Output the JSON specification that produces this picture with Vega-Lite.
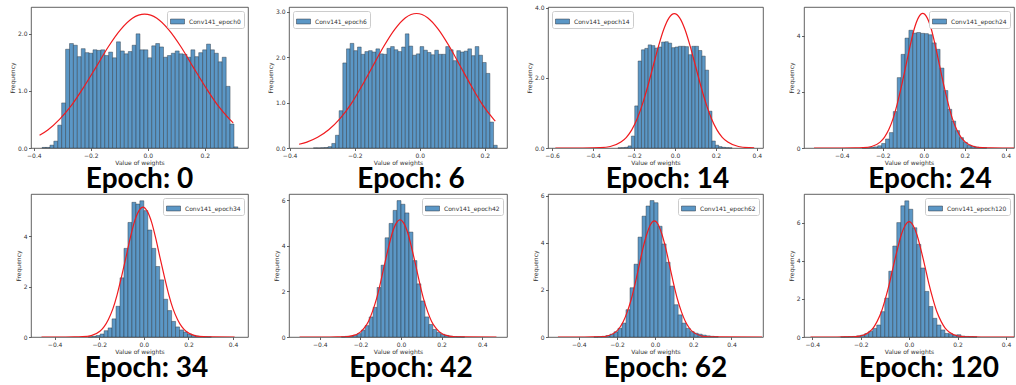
{
"$schema": "https://vega.github.io/schema/vega-lite/v6.json",
"background": "white",
"padding": {"left": 9, "top": 4, "right": 2, "bottom": 2},
"datasets": {
"h": [
{"p":"e0","a":-0.371,"b":-0.3573,"y":0.01},{"p":"e0","a":-0.3573,"b":-0.3435,"y":0.01},{"p":"e0","a":-0.3435,"b":-0.3298,"y":0.05},{"p":"e0","a":-0.3298,"b":-0.316,"y":0.12},{"p":"e0","a":-0.316,"b":-0.3023,"y":0.40},{"p":"e0","a":-0.3023,"b":-0.2885,"y":0.79},{"p":"e0","a":-0.2885,"b":-0.2748,"y":1.73},{"p":"e0","a":-0.2748,"b":-0.261,"y":1.83},{"p":"e0","a":-0.261,"b":-0.2473,"y":1.80},{"p":"e0","a":-0.2473,"b":-0.2335,"y":1.60},{"p":"e0","a":-0.2335,"b":-0.2198,"y":1.74},{"p":"e0","a":-0.2198,"b":-0.206,"y":1.67},{"p":"e0","a":-0.206,"b":-0.1923,"y":1.66},{"p":"e0","a":-0.1923,"b":-0.1785,"y":1.72},{"p":"e0","a":-0.1785,"b":-0.1648,"y":1.71},{"p":"e0","a":-0.1648,"b":-0.151,"y":1.72},{"p":"e0","a":-0.151,"b":-0.1373,"y":1.62},{"p":"e0","a":-0.1373,"b":-0.1235,"y":1.68},{"p":"e0","a":-0.1235,"b":-0.1098,"y":1.58},{"p":"e0","a":-0.1098,"b":-0.096,"y":1.86},{"p":"e0","a":-0.096,"b":-0.0823,"y":1.70},{"p":"e0","a":-0.0823,"b":-0.0685,"y":1.65},{"p":"e0","a":-0.0685,"b":-0.0548,"y":1.69},{"p":"e0","a":-0.0548,"b":-0.041,"y":1.80},{"p":"e0","a":-0.041,"b":-0.0273,"y":2.00},{"p":"e0","a":-0.0273,"b":-0.0135,"y":1.72},{"p":"e0","a":-0.0135,"b":0.0003,"y":1.72},{"p":"e0","a":0.0003,"b":0.014,"y":1.58},{"p":"e0","a":0.014,"b":0.0278,"y":1.79},{"p":"e0","a":0.0278,"b":0.0415,"y":1.83},{"p":"e0","a":0.0415,"b":0.0553,"y":1.77},{"p":"e0","a":0.0553,"b":0.069,"y":1.59},{"p":"e0","a":0.069,"b":0.0828,"y":1.62},{"p":"e0","a":0.0828,"b":0.0965,"y":1.66},{"p":"e0","a":0.0965,"b":0.1103,"y":1.70},{"p":"e0","a":0.1103,"b":0.124,"y":1.65},{"p":"e0","a":0.124,"b":0.1378,"y":1.64},{"p":"e0","a":0.1378,"b":0.1515,"y":1.59},{"p":"e0","a":0.1515,"b":0.1653,"y":1.72},{"p":"e0","a":0.1653,"b":0.179,"y":1.60},{"p":"e0","a":0.179,"b":0.1928,"y":1.67},{"p":"e0","a":0.1928,"b":0.2065,"y":1.72},{"p":"e0","a":0.2065,"b":0.2203,"y":1.82},{"p":"e0","a":0.2203,"b":0.234,"y":1.72},{"p":"e0","a":0.234,"b":0.2478,"y":1.66},{"p":"e0","a":0.2478,"b":0.2615,"y":1.51},{"p":"e0","a":0.2615,"b":0.2753,"y":1.59},{"p":"e0","a":0.2753,"b":0.289,"y":1.08},{"p":"e0","a":0.289,"b":0.3028,"y":0.42},{"p":"e0","a":0.3028,"b":0.3165,"y":0.02},
{"p":"e6","a":-0.327,"b":-0.3157,"y":0.002},{"p":"e6","a":-0.3157,"b":-0.3044,"y":0.001},{"p":"e6","a":-0.3044,"b":-0.2931,"y":0.005},{"p":"e6","a":-0.2931,"b":-0.2818,"y":0.01},{"p":"e6","a":-0.2818,"b":-0.2705,"y":0.03},{"p":"e6","a":-0.2705,"b":-0.2592,"y":0.10},{"p":"e6","a":-0.2592,"b":-0.2479,"y":0.28},{"p":"e6","a":-0.2479,"b":-0.2366,"y":0.82},{"p":"e6","a":-0.2366,"b":-0.2253,"y":1.87},{"p":"e6","a":-0.2253,"b":-0.214,"y":2.18},{"p":"e6","a":-0.214,"b":-0.2027,"y":2.30},{"p":"e6","a":-0.2027,"b":-0.1914,"y":2.14},{"p":"e6","a":-0.1914,"b":-0.1801,"y":2.22},{"p":"e6","a":-0.1801,"b":-0.1688,"y":2.06},{"p":"e6","a":-0.1688,"b":-0.1575,"y":2.12},{"p":"e6","a":-0.1575,"b":-0.1462,"y":2.14},{"p":"e6","a":-0.1462,"b":-0.1349,"y":2.11},{"p":"e6","a":-0.1349,"b":-0.1236,"y":2.18},{"p":"e6","a":-0.1236,"b":-0.1123,"y":2.07},{"p":"e6","a":-0.1123,"b":-0.101,"y":2.06},{"p":"e6","a":-0.101,"b":-0.0897,"y":2.19},{"p":"e6","a":-0.0897,"b":-0.0784,"y":2.23},{"p":"e6","a":-0.0784,"b":-0.0671,"y":2.16},{"p":"e6","a":-0.0671,"b":-0.0558,"y":2.12},{"p":"e6","a":-0.0558,"b":-0.0445,"y":2.22},{"p":"e6","a":-0.0445,"b":-0.0332,"y":2.51},{"p":"e6","a":-0.0332,"b":-0.0219,"y":2.24},{"p":"e6","a":-0.0219,"b":-0.0106,"y":2.04},{"p":"e6","a":-0.0106,"b":0.0007,"y":2.07},{"p":"e6","a":0.0007,"b":0.012,"y":2.23},{"p":"e6","a":0.012,"b":0.0233,"y":2.15},{"p":"e6","a":0.0233,"b":0.0346,"y":2.10},{"p":"e6","a":0.0346,"b":0.0459,"y":2.05},{"p":"e6","a":0.0459,"b":0.0572,"y":2.15},{"p":"e6","a":0.0572,"b":0.0685,"y":2.06},{"p":"e6","a":0.0685,"b":0.0798,"y":2.06},{"p":"e6","a":0.0798,"b":0.0911,"y":2.23},{"p":"e6","a":0.0911,"b":0.1024,"y":2.16},{"p":"e6","a":0.1024,"b":0.1137,"y":1.92},{"p":"e6","a":0.1137,"b":0.125,"y":2.14},{"p":"e6","a":0.125,"b":0.1363,"y":2.11},{"p":"e6","a":0.1363,"b":0.1476,"y":2.13},{"p":"e6","a":0.1476,"b":0.1589,"y":2.18},{"p":"e6","a":0.1589,"b":0.1702,"y":2.03},{"p":"e6","a":0.1702,"b":0.1815,"y":2.23},{"p":"e6","a":0.1815,"b":0.1928,"y":2.04},{"p":"e6","a":0.1928,"b":0.2041,"y":1.88},{"p":"e6","a":0.2041,"b":0.2154,"y":1.64},{"p":"e6","a":0.2154,"b":0.2267,"y":0.57},{"p":"e6","a":0.2267,"b":0.238,"y":0.06},
{"p":"e14","a":-0.2784,"b":-0.262,"y":0.005},{"p":"e14","a":-0.262,"b":-0.2456,"y":0.01},{"p":"e14","a":-0.2456,"b":-0.2292,"y":0.02},{"p":"e14","a":-0.2292,"b":-0.2128,"y":0.06},{"p":"e14","a":-0.2128,"b":-0.1964,"y":0.34},{"p":"e14","a":-0.1964,"b":-0.18,"y":1.20},{"p":"e14","a":-0.18,"b":-0.1636,"y":2.48},{"p":"e14","a":-0.1636,"b":-0.1472,"y":2.80},{"p":"e14","a":-0.1472,"b":-0.1308,"y":2.84},{"p":"e14","a":-0.1308,"b":-0.1144,"y":2.94},{"p":"e14","a":-0.1144,"b":-0.098,"y":2.92},{"p":"e14","a":-0.098,"b":-0.0816,"y":2.85},{"p":"e14","a":-0.0816,"b":-0.0652,"y":2.88},{"p":"e14","a":-0.0652,"b":-0.0488,"y":3.02},{"p":"e14","a":-0.0488,"b":-0.0324,"y":3.03},{"p":"e14","a":-0.0324,"b":-0.016,"y":2.99},{"p":"e14","a":-0.016,"b":0.0004,"y":2.86},{"p":"e14","a":0.0004,"b":0.0168,"y":2.88},{"p":"e14","a":0.0168,"b":0.0332,"y":2.90},{"p":"e14","a":0.0332,"b":0.0496,"y":2.90},{"p":"e14","a":0.0496,"b":0.066,"y":2.89},{"p":"e14","a":0.066,"b":0.0824,"y":2.66},{"p":"e14","a":0.0824,"b":0.0988,"y":2.90},{"p":"e14","a":0.0988,"b":0.1152,"y":2.90},{"p":"e14","a":0.1152,"b":0.1316,"y":2.78},{"p":"e14","a":0.1316,"b":0.148,"y":2.62},{"p":"e14","a":0.148,"b":0.1644,"y":2.22},{"p":"e14","a":0.1644,"b":0.1808,"y":1.05},{"p":"e14","a":0.1808,"b":0.1972,"y":0.20},{"p":"e14","a":0.1972,"b":0.2136,"y":0.08},{"p":"e14","a":0.2136,"b":0.23,"y":0.04},{"p":"e14","a":0.23,"b":0.2464,"y":0.02},{"p":"e14","a":0.2464,"b":0.2628,"y":0.01},{"p":"e14","a":0.2628,"b":0.2792,"y":0.005},
{"p":"e24","a":-0.3005,"b":-0.2815,"y":0.005},{"p":"e24","a":-0.2815,"b":-0.2625,"y":0.01},{"p":"e24","a":-0.2625,"b":-0.2435,"y":0.02},{"p":"e24","a":-0.2435,"b":-0.2245,"y":0.04},{"p":"e24","a":-0.2245,"b":-0.2055,"y":0.08},{"p":"e24","a":-0.2055,"b":-0.1865,"y":0.16},{"p":"e24","a":-0.1865,"b":-0.1675,"y":0.32},{"p":"e24","a":-0.1675,"b":-0.1485,"y":0.55},{"p":"e24","a":-0.1485,"b":-0.1295,"y":1.30},{"p":"e24","a":-0.1295,"b":-0.1105,"y":2.51},{"p":"e24","a":-0.1105,"b":-0.0915,"y":3.34},{"p":"e24","a":-0.0915,"b":-0.0725,"y":3.92},{"p":"e24","a":-0.0725,"b":-0.0535,"y":4.20},{"p":"e24","a":-0.0535,"b":-0.0345,"y":4.10},{"p":"e24","a":-0.0345,"b":-0.0155,"y":4.12},{"p":"e24","a":-0.0155,"b":0.0035,"y":4.09},{"p":"e24","a":0.0035,"b":0.0225,"y":4.08},{"p":"e24","a":0.0225,"b":0.0415,"y":4.04},{"p":"e24","a":0.0415,"b":0.0605,"y":3.75},{"p":"e24","a":0.0605,"b":0.0795,"y":3.52},{"p":"e24","a":0.0795,"b":0.0985,"y":2.85},{"p":"e24","a":0.0985,"b":0.1175,"y":2.05},{"p":"e24","a":0.1175,"b":0.1365,"y":1.38},{"p":"e24","a":0.1365,"b":0.1555,"y":0.96},{"p":"e24","a":0.1555,"b":0.1745,"y":0.62},{"p":"e24","a":0.1745,"b":0.1935,"y":0.37},{"p":"e24","a":0.1935,"b":0.2125,"y":0.20},{"p":"e24","a":0.2125,"b":0.2315,"y":0.10},{"p":"e24","a":0.2315,"b":0.2505,"y":0.06},{"p":"e24","a":0.2505,"b":0.2695,"y":0.03},{"p":"e24","a":0.2695,"b":0.2885,"y":0.015},{"p":"e24","a":0.2885,"b":0.3075,"y":0.01},
{"p":"e34","a":-0.2493,"b":-0.2315,"y":0.01},{"p":"e34","a":-0.2315,"b":-0.2137,"y":0.03},{"p":"e34","a":-0.2137,"b":-0.1959,"y":0.06},{"p":"e34","a":-0.1959,"b":-0.1781,"y":0.12},{"p":"e34","a":-0.1781,"b":-0.1603,"y":0.25},{"p":"e34","a":-0.1603,"b":-0.1425,"y":0.36},{"p":"e34","a":-0.1425,"b":-0.1247,"y":0.72},{"p":"e34","a":-0.1247,"b":-0.1069,"y":1.22},{"p":"e34","a":-0.1069,"b":-0.0891,"y":2.35},{"p":"e34","a":-0.0891,"b":-0.0713,"y":3.52},{"p":"e34","a":-0.0713,"b":-0.0535,"y":4.55},{"p":"e34","a":-0.0535,"b":-0.0357,"y":5.35},{"p":"e34","a":-0.0357,"b":-0.0179,"y":5.28},{"p":"e34","a":-0.0179,"b":-0.0001,"y":5.41},{"p":"e34","a":-0.0001,"b":0.0177,"y":5.02},{"p":"e34","a":0.0177,"b":0.0355,"y":4.25},{"p":"e34","a":0.0355,"b":0.0533,"y":3.52},{"p":"e34","a":0.0533,"b":0.0711,"y":2.80},{"p":"e34","a":0.0711,"b":0.0889,"y":2.27},{"p":"e34","a":0.0889,"b":0.1067,"y":1.50},{"p":"e34","a":0.1067,"b":0.1245,"y":1.05},{"p":"e34","a":0.1245,"b":0.1423,"y":0.62},{"p":"e34","a":0.1423,"b":0.1601,"y":0.40},{"p":"e34","a":0.1601,"b":0.1779,"y":0.28},{"p":"e34","a":0.1779,"b":0.1957,"y":0.20},{"p":"e34","a":0.1957,"b":0.2135,"y":0.12},{"p":"e34","a":0.2135,"b":0.2313,"y":0.07},{"p":"e34","a":0.2313,"b":0.2491,"y":0.04},{"p":"e34","a":0.2491,"b":0.2669,"y":0.02},{"p":"e34","a":0.2669,"b":0.2847,"y":0.01},{"p":"e34","a":0.2847,"b":0.3025,"y":0.005},
{"p":"e42","a":-0.2942,"b":-0.2746,"y":0.01},{"p":"e42","a":-0.2746,"b":-0.255,"y":0.03},{"p":"e42","a":-0.255,"b":-0.2354,"y":0.04},{"p":"e42","a":-0.2354,"b":-0.2158,"y":0.08},{"p":"e42","a":-0.2158,"b":-0.1962,"y":0.15},{"p":"e42","a":-0.1962,"b":-0.1766,"y":0.30},{"p":"e42","a":-0.1766,"b":-0.157,"y":0.50},{"p":"e42","a":-0.157,"b":-0.1374,"y":0.88},{"p":"e42","a":-0.1374,"b":-0.1178,"y":1.30},{"p":"e42","a":-0.1178,"b":-0.0982,"y":2.17},{"p":"e42","a":-0.0982,"b":-0.0786,"y":3.15},{"p":"e42","a":-0.0786,"b":-0.059,"y":4.35},{"p":"e42","a":-0.059,"b":-0.0394,"y":4.98},{"p":"e42","a":-0.0394,"b":-0.0198,"y":5.55},{"p":"e42","a":-0.0198,"b":-0.0002,"y":5.98},{"p":"e42","a":-0.0002,"b":0.0194,"y":5.82},{"p":"e42","a":0.0194,"b":0.039,"y":5.44},{"p":"e42","a":0.039,"b":0.0586,"y":4.60},{"p":"e42","a":0.0586,"b":0.0782,"y":3.35},{"p":"e42","a":0.0782,"b":0.0978,"y":2.33},{"p":"e42","a":0.0978,"b":0.1174,"y":1.58},{"p":"e42","a":0.1174,"b":0.137,"y":0.88},{"p":"e42","a":0.137,"b":0.1566,"y":0.55},{"p":"e42","a":0.1566,"b":0.1762,"y":0.33},{"p":"e42","a":0.1762,"b":0.1958,"y":0.20},{"p":"e42","a":0.1958,"b":0.2154,"y":0.12},{"p":"e42","a":0.2154,"b":0.235,"y":0.07},{"p":"e42","a":0.235,"b":0.2546,"y":0.04},{"p":"e42","a":0.2546,"b":0.2742,"y":0.02},{"p":"e42","a":0.2742,"b":0.2938,"y":0.01},{"p":"e42","a":0.2938,"b":0.3134,"y":0.005},
{"p":"e62","a":-0.3205,"b":-0.2995,"y":0.005},{"p":"e62","a":-0.2995,"b":-0.2785,"y":0.015},{"p":"e62","a":-0.2785,"b":-0.2575,"y":0.03},{"p":"e62","a":-0.2575,"b":-0.2365,"y":0.06},{"p":"e62","a":-0.2365,"b":-0.2155,"y":0.12},{"p":"e62","a":-0.2155,"b":-0.1945,"y":0.22},{"p":"e62","a":-0.1945,"b":-0.1735,"y":0.37},{"p":"e62","a":-0.1735,"b":-0.1525,"y":0.59},{"p":"e62","a":-0.1525,"b":-0.1315,"y":1.16},{"p":"e62","a":-0.1315,"b":-0.1105,"y":2.09},{"p":"e62","a":-0.1105,"b":-0.0895,"y":3.09},{"p":"e62","a":-0.0895,"b":-0.0685,"y":4.24},{"p":"e62","a":-0.0685,"b":-0.0475,"y":5.13},{"p":"e62","a":-0.0475,"b":-0.0265,"y":5.56},{"p":"e62","a":-0.0265,"b":-0.0055,"y":5.79},{"p":"e62","a":-0.0055,"b":0.0155,"y":5.70},{"p":"e62","a":0.0155,"b":0.0365,"y":4.70},{"p":"e62","a":0.0365,"b":0.0575,"y":3.95},{"p":"e62","a":0.0575,"b":0.0785,"y":3.17},{"p":"e62","a":0.0785,"b":0.0995,"y":2.16},{"p":"e62","a":0.0995,"b":0.1205,"y":1.37},{"p":"e62","a":0.1205,"b":0.1415,"y":0.94},{"p":"e62","a":0.1415,"b":0.1625,"y":0.59},{"p":"e62","a":0.1625,"b":0.1835,"y":0.37},{"p":"e62","a":0.1835,"b":0.2045,"y":0.23},{"p":"e62","a":0.2045,"b":0.2255,"y":0.16},{"p":"e62","a":0.2255,"b":0.2465,"y":0.12},{"p":"e62","a":0.2465,"b":0.2675,"y":0.08},{"p":"e62","a":0.2675,"b":0.2885,"y":0.05},{"p":"e62","a":0.2885,"b":0.3095,"y":0.03},{"p":"e62","a":0.3095,"b":0.3305,"y":0.02},
{"p":"e120","a":-0.2826,"b":-0.266,"y":0.005},{"p":"e120","a":-0.266,"b":-0.2495,"y":0.01},{"p":"e120","a":-0.2495,"b":-0.2329,"y":0.02},{"p":"e120","a":-0.2329,"b":-0.2164,"y":0.03},{"p":"e120","a":-0.2164,"b":-0.1998,"y":0.06},{"p":"e120","a":-0.1998,"b":-0.1833,"y":0.10},{"p":"e120","a":-0.1833,"b":-0.1667,"y":0.18},{"p":"e120","a":-0.1667,"b":-0.1502,"y":0.30},{"p":"e120","a":-0.1502,"b":-0.1336,"y":0.45},{"p":"e120","a":-0.1336,"b":-0.1171,"y":0.63},{"p":"e120","a":-0.1171,"b":-0.1005,"y":1.33},{"p":"e120","a":-0.1005,"b":-0.084,"y":2.04},{"p":"e120","a":-0.084,"b":-0.0674,"y":3.45},{"p":"e120","a":-0.0674,"b":-0.0509,"y":4.77},{"p":"e120","a":-0.0509,"b":-0.0343,"y":6.00},{"p":"e120","a":-0.0343,"b":-0.0178,"y":6.88},{"p":"e120","a":-0.0178,"b":-0.0012,"y":7.14},{"p":"e120","a":-0.0012,"b":0.0153,"y":6.70},{"p":"e120","a":0.0153,"b":0.0319,"y":5.73},{"p":"e120","a":0.0319,"b":0.0484,"y":4.86},{"p":"e120","a":0.0484,"b":0.065,"y":3.62},{"p":"e120","a":0.065,"b":0.0815,"y":2.39},{"p":"e120","a":0.0815,"b":0.0981,"y":1.60},{"p":"e120","a":0.0981,"b":0.1146,"y":0.98},{"p":"e120","a":0.1146,"b":0.1312,"y":0.63},{"p":"e120","a":0.1312,"b":0.1477,"y":0.37},{"p":"e120","a":0.1477,"b":0.1643,"y":0.19},{"p":"e120","a":0.1643,"b":0.1808,"y":0.17},{"p":"e120","a":0.1808,"b":0.1974,"y":0.10},{"p":"e120","a":0.1974,"b":0.2139,"y":0.12},{"p":"e120","a":0.2139,"b":0.2305,"y":0.05},{"p":"e120","a":0.2305,"b":0.247,"y":0.03},{"p":"e120","a":0.247,"b":0.2636,"y":0.02},{"p":"e120","a":0.2636,"b":0.2801,"y":0.01}
],
"c": [
{"p":"e0","x":-0.38,"y":0.223},{"p":"e0","x":-0.351,"y":0.317},{"p":"e0","x":-0.309,"y":0.507},{"p":"e0","x":-0.266,"y":0.761},{"p":"e0","x":-0.224,"y":1.073},{"p":"e0","x":-0.181,"y":1.422},{"p":"e0","x":-0.139,"y":1.769},{"p":"e0","x":-0.096,"y":2.069},{"p":"e0","x":-0.054,"y":2.272},{"p":"e0","x":-0.011,"y":2.344},{"p":"e0","x":0.032,"y":2.272},{"p":"e0","x":0.074,"y":2.069},{"p":"e0","x":0.117,"y":1.769},{"p":"e0","x":0.159,"y":1.422},{"p":"e0","x":0.202,"y":1.073},{"p":"e0","x":0.244,"y":0.761},{"p":"e0","x":0.287,"y":0.507},{"p":"e0","x":0.30,"y":0.44},
{"p":"e6","x":-0.371,"y":0.082},{"p":"e6","x":-0.347,"y":0.130},{"p":"e6","x":-0.314,"y":0.235},{"p":"e6","x":-0.280,"y":0.400},{"p":"e6","x":-0.246,"y":0.640},{"p":"e6","x":-0.212,"y":0.960},{"p":"e6","x":-0.179,"y":1.354},{"p":"e6","x":-0.145,"y":1.793},{"p":"e6","x":-0.111,"y":2.232},{"p":"e6","x":-0.077,"y":2.610},{"p":"e6","x":-0.044,"y":2.866},{"p":"e6","x":-0.010,"y":2.957},{"p":"e6","x":0.024,"y":2.866},{"p":"e6","x":0.057,"y":2.610},{"p":"e6","x":0.091,"y":2.232},{"p":"e6","x":0.125,"y":1.793},{"p":"e6","x":0.159,"y":1.354},{"p":"e6","x":0.192,"y":0.960},{"p":"e6","x":0.226,"y":0.640},{"p":"e6","x":0.232,"y":0.59},
{"p":"e14","x":-0.584,"y":0},{"p":"e14","x":-0.45,"y":0.0005},{"p":"e14","x":-0.40,"y":0.0027},{"p":"e14","x":-0.368,"y":0.0084},{"p":"e14","x":-0.316,"y":0.0425},{"p":"e14","x":-0.264,"y":0.168},{"p":"e14","x":-0.237,"y":0.305},{"p":"e14","x":-0.211,"y":0.518},{"p":"e14","x":-0.185,"y":0.828},{"p":"e14","x":-0.159,"y":1.244},{"p":"e14","x":-0.133,"y":1.753},{"p":"e14","x":-0.107,"y":2.323},{"p":"e14","x":-0.081,"y":2.891},{"p":"e14","x":-0.055,"y":3.380},{"p":"e14","x":-0.029,"y":3.712},{"p":"e14","x":-0.003,"y":3.83},{"p":"e14","x":0.023,"y":3.712},{"p":"e14","x":0.049,"y":3.380},{"p":"e14","x":0.075,"y":2.891},{"p":"e14","x":0.101,"y":2.323},{"p":"e14","x":0.127,"y":1.753},{"p":"e14","x":0.153,"y":1.244},{"p":"e14","x":0.179,"y":0.828},{"p":"e14","x":0.205,"y":0.518},{"p":"e14","x":0.231,"y":0.305},{"p":"e14","x":0.258,"y":0.168},{"p":"e14","x":0.310,"y":0.0425},{"p":"e14","x":0.362,"y":0.0084},{"p":"e14","x":0.387,"y":0.0035},
{"p":"e24","x":-0.535,"y":0},{"p":"e24","x":-0.40,"y":0.0001},{"p":"e24","x":-0.337,"y":0.0016},{"p":"e24","x":-0.296,"y":0.0105},{"p":"e24","x":-0.254,"y":0.053},{"p":"e24","x":-0.213,"y":0.211},{"p":"e24","x":-0.192,"y":0.382},{"p":"e24","x":-0.171,"y":0.649},{"p":"e24","x":-0.150,"y":1.038},{"p":"e24","x":-0.130,"y":1.559},{"p":"e24","x":-0.109,"y":2.197},{"p":"e24","x":-0.088,"y":2.911},{"p":"e24","x":-0.067,"y":3.623},{"p":"e24","x":-0.047,"y":4.236},{"p":"e24","x":-0.026,"y":4.652},{"p":"e24","x":-0.005,"y":4.80},{"p":"e24","x":0.016,"y":4.652},{"p":"e24","x":0.037,"y":4.236},{"p":"e24","x":0.057,"y":3.623},{"p":"e24","x":0.078,"y":2.911},{"p":"e24","x":0.099,"y":2.197},{"p":"e24","x":0.120,"y":1.559},{"p":"e24","x":0.140,"y":1.038},{"p":"e24","x":0.161,"y":0.649},{"p":"e24","x":0.182,"y":0.382},{"p":"e24","x":0.203,"y":0.211},{"p":"e24","x":0.244,"y":0.053},{"p":"e24","x":0.286,"y":0.0105},{"p":"e24","x":0.327,"y":0.0016},{"p":"e24","x":0.44,"y":0},
{"p":"e34","x":-0.459,"y":0},{"p":"e34","x":-0.35,"y":0.0002},{"p":"e34","x":-0.313,"y":0.0017},{"p":"e34","x":-0.275,"y":0.0113},{"p":"e34","x":-0.236,"y":0.0573},{"p":"e34","x":-0.197,"y":0.2265},{"p":"e34","x":-0.178,"y":0.411},{"p":"e34","x":-0.159,"y":0.698},{"p":"e34","x":-0.139,"y":1.116},{"p":"e34","x":-0.120,"y":1.675},{"p":"e34","x":-0.101,"y":2.362},{"p":"e34","x":-0.081,"y":3.130},{"p":"e34","x":-0.062,"y":3.895},{"p":"e34","x":-0.043,"y":4.554},{"p":"e34","x":-0.023,"y":5.001},{"p":"e34","x":-0.004,"y":5.16},{"p":"e34","x":0.015,"y":5.001},{"p":"e34","x":0.035,"y":4.554},{"p":"e34","x":0.054,"y":3.895},{"p":"e34","x":0.073,"y":3.130},{"p":"e34","x":0.093,"y":2.362},{"p":"e34","x":0.112,"y":1.675},{"p":"e34","x":0.131,"y":1.116},{"p":"e34","x":0.151,"y":0.698},{"p":"e34","x":0.170,"y":0.411},{"p":"e34","x":0.189,"y":0.2265},{"p":"e34","x":0.228,"y":0.0573},{"p":"e34","x":0.267,"y":0.0113},{"p":"e34","x":0.305,"y":0.0017},{"p":"e34","x":0.407,"y":0},
{"p":"e42","x":-0.50,"y":0},{"p":"e42","x":-0.35,"y":0.0003},{"p":"e42","x":-0.315,"y":0.0017},{"p":"e42","x":-0.277,"y":0.0113},{"p":"e42","x":-0.238,"y":0.0571},{"p":"e42","x":-0.199,"y":0.2256},{"p":"e42","x":-0.180,"y":0.409},{"p":"e42","x":-0.160,"y":0.695},{"p":"e42","x":-0.141,"y":1.112},{"p":"e42","x":-0.121,"y":1.669},{"p":"e42","x":-0.102,"y":2.353},{"p":"e42","x":-0.083,"y":3.117},{"p":"e42","x":-0.063,"y":3.880},{"p":"e42","x":-0.044,"y":4.536},{"p":"e42","x":-0.024,"y":4.982},{"p":"e42","x":-0.005,"y":5.14},{"p":"e42","x":0.014,"y":4.982},{"p":"e42","x":0.034,"y":4.536},{"p":"e42","x":0.053,"y":3.880},{"p":"e42","x":0.073,"y":3.117},{"p":"e42","x":0.092,"y":2.353},{"p":"e42","x":0.111,"y":1.669},{"p":"e42","x":0.131,"y":1.112},{"p":"e42","x":0.150,"y":0.695},{"p":"e42","x":0.170,"y":0.409},{"p":"e42","x":0.189,"y":0.2256},{"p":"e42","x":0.228,"y":0.0571},{"p":"e42","x":0.267,"y":0.0113},{"p":"e42","x":0.305,"y":0.0017},{"p":"e42","x":0.47,"y":0},
{"p":"e62","x":-0.509,"y":0},{"p":"e62","x":-0.37,"y":0.0002},{"p":"e62","x":-0.328,"y":0.0017},{"p":"e62","x":-0.287,"y":0.0108},{"p":"e62","x":-0.247,"y":0.0547},{"p":"e62","x":-0.206,"y":0.2164},{"p":"e62","x":-0.186,"y":0.392},{"p":"e62","x":-0.166,"y":0.667},{"p":"e62","x":-0.146,"y":1.066},{"p":"e62","x":-0.125,"y":1.601},{"p":"e62","x":-0.105,"y":2.257},{"p":"e62","x":-0.085,"y":2.990},{"p":"e62","x":-0.065,"y":3.721},{"p":"e62","x":-0.044,"y":4.351},{"p":"e62","x":-0.024,"y":4.778},{"p":"e62","x":-0.004,"y":4.93},{"p":"e62","x":0.016,"y":4.778},{"p":"e62","x":0.036,"y":4.351},{"p":"e62","x":0.057,"y":3.721},{"p":"e62","x":0.077,"y":2.990},{"p":"e62","x":0.097,"y":2.257},{"p":"e62","x":0.117,"y":1.601},{"p":"e62","x":0.138,"y":1.066},{"p":"e62","x":0.158,"y":0.667},{"p":"e62","x":0.178,"y":0.392},{"p":"e62","x":0.198,"y":0.2164},{"p":"e62","x":0.239,"y":0.0547},{"p":"e62","x":0.279,"y":0.0108},{"p":"e62","x":0.320,"y":0.0017},{"p":"e62","x":0.56,"y":0},
{"p":"e120","x":-0.407,"y":0},{"p":"e120","x":-0.297,"y":0.0002},{"p":"e120","x":-0.264,"y":0.002},{"p":"e120","x":-0.231,"y":0.0133},{"p":"e120","x":-0.198,"y":0.0672},{"p":"e120","x":-0.165,"y":0.2656},{"p":"e120","x":-0.148,"y":0.4816},{"p":"e120","x":-0.132,"y":0.819},{"p":"e120","x":-0.115,"y":1.309},{"p":"e120","x":-0.099,"y":1.964},{"p":"e120","x":-0.082,"y":2.770},{"p":"e120","x":-0.066,"y":3.669},{"p":"e120","x":-0.049,"y":4.567},{"p":"e120","x":-0.033,"y":5.339},{"p":"e120","x":-0.016,"y":5.864},{"p":"e120","x":0,"y":6.05},{"p":"e120","x":0.016,"y":5.864},{"p":"e120","x":0.033,"y":5.339},{"p":"e120","x":0.049,"y":4.567},{"p":"e120","x":0.066,"y":3.669},{"p":"e120","x":0.082,"y":2.770},{"p":"e120","x":0.099,"y":1.964},{"p":"e120","x":0.115,"y":1.309},{"p":"e120","x":0.132,"y":0.819},{"p":"e120","x":0.148,"y":0.4816},{"p":"e120","x":0.165,"y":0.2656},{"p":"e120","x":0.198,"y":0.0672},{"p":"e120","x":0.231,"y":0.0133},{"p":"e120","x":0.264,"y":0.002},{"p":"e120","x":0.297,"y":0.0002},{"p":"e120","x":0.433,"y":0}
]
},
"columns": 4,
"spacing": {"row": 46, "column": 41},
"bounds": "flush",
"resolve": {"scale": {"color": "independent", "x": "independent", "y": "independent"}, "legend": {"color": "independent"}},
"concat": [
{"width": 217, "height": 141, "title": {"text": "Epoch: 0", "dx": 0},
 "layer": [
  {"data": {"name": "h"}, "transform": [{"filter": "datum.p=='e0'"}], "mark": {"type": "rect", "stroke": "#27313c", "strokeWidth": 0.5, "strokeOpacity": 0.85},
   "encoding": {"x": {"field": "a", "type": "quantitative", "scale": {"domain": [-0.41, 0.352], "nice": false, "zero": false}, "axis": {"title": "Value of weights", "values": [-0.4,-0.3,-0.2,-0.1,0,0.1,0.2,0.3], "format": ".1f"}},
    "x2": {"field": "b"},
    "y": {"field": "y", "type": "quantitative", "scale": {"domain": [0, 2.47], "nice": false}, "axis": {"title": "Frequency", "values": [0,0.5,1,1.5,2], "format": ".1f"}},
    "y2": {"datum": 0},
    "color": {"datum": "Conv141_epoch0", "scale": {"range": ["#5b97c6"]}, "legend": {"title": null, "orient": "top-right"}}}},
  {"data": {"name": "c"}, "transform": [{"filter": "datum.p=='e0'"}], "mark": {"type": "line", "color": "#f01a1e", "strokeWidth": 1.2, "interpolate": "monotone", "clip": true},
   "encoding": {"x": {"field": "x", "type": "quantitative", "axis": {"title": "Value of weights"}}, "y": {"field": "y", "type": "quantitative", "axis": {"title": "Frequency"}}}}
 ]},
{"width": 218, "height": 141, "title": {"text": "Epoch: 6", "dx": 13},
 "layer": [
  {"data": {"name": "h"}, "transform": [{"filter": "datum.p=='e6'"}], "mark": {"type": "rect", "stroke": "#27313c", "strokeWidth": 0.5, "strokeOpacity": 0.85},
   "encoding": {"x": {"field": "a", "type": "quantitative", "scale": {"domain": [-0.402, 0.268], "nice": false, "zero": false}, "axis": {"title": "Value of weights", "values": [-0.4,-0.3,-0.2,-0.1,0,0.1,0.2], "format": ".1f"}},
    "x2": {"field": "b"},
    "y": {"field": "y", "type": "quantitative", "scale": {"domain": [0, 3.1], "nice": false}, "axis": {"title": "Frequency", "values": [0,0.5,1,1.5,2,2.5,3], "format": ".1f"}},
    "y2": {"datum": 0},
    "color": {"datum": "Conv141_epoch6", "scale": {"range": ["#5b97c6"]}, "legend": {"title": null, "orient": "top-left"}}}},
  {"data": {"name": "c"}, "transform": [{"filter": "datum.p=='e6'"}], "mark": {"type": "line", "color": "#f01a1e", "strokeWidth": 1.2, "interpolate": "monotone", "clip": true},
   "encoding": {"x": {"field": "x", "type": "quantitative", "axis": {"title": "Value of weights"}}, "y": {"field": "y", "type": "quantitative", "axis": {"title": "Frequency"}}}}
 ]},
{"width": 215, "height": 141, "title": {"text": "Epoch: 14", "dx": 12},
 "layer": [
  {"data": {"name": "h"}, "transform": [{"filter": "datum.p=='e14'"}], "mark": {"type": "rect", "stroke": "#27313c", "strokeWidth": 0.5, "strokeOpacity": 0.85},
   "encoding": {"x": {"field": "a", "type": "quantitative", "scale": {"domain": [-0.62, 0.43], "nice": false, "zero": false}, "axis": {"title": "Value of weights", "values": [-0.6,-0.4,-0.2,0,0.2,0.4], "format": ".1f"}},
    "x2": {"field": "b"},
    "y": {"field": "y", "type": "quantitative", "scale": {"domain": [0, 4.02], "nice": false}, "axis": {"title": "Frequency", "values": [0,0.5,1,1.5,2,2.5,3,3.5,4], "format": ".1f"}},
    "y2": {"datum": 0},
    "color": {"datum": "Conv141_epoch14", "scale": {"range": ["#5b97c6"]}, "legend": {"title": null, "orient": "top-left"}}}},
  {"data": {"name": "c"}, "transform": [{"filter": "datum.p=='e14'"}], "mark": {"type": "line", "color": "#f01a1e", "strokeWidth": 1.2, "interpolate": "monotone", "clip": true},
   "encoding": {"x": {"field": "x", "type": "quantitative", "axis": {"title": "Value of weights"}}, "y": {"field": "y", "type": "quantitative", "axis": {"title": "Frequency"}}}}
 ]},
{"width": 210, "height": 141, "title": {"text": "Epoch: 24", "dx": 21},
 "layer": [
  {"data": {"name": "h"}, "transform": [{"filter": "datum.p=='e24'"}], "mark": {"type": "rect", "stroke": "#27313c", "strokeWidth": 0.5, "strokeOpacity": 0.85},
   "encoding": {"x": {"field": "a", "type": "quantitative", "scale": {"domain": [-0.584, 0.44], "nice": false, "zero": false}, "axis": {"title": "Value of weights", "values": [-0.4,-0.2,0,0.2,0.4], "format": ".1f"}},
    "x2": {"field": "b"},
    "y": {"field": "y", "type": "quantitative", "scale": {"domain": [0, 5.03], "nice": false}, "axis": {"title": "Frequency", "values": [0,1,2,3,4,5], "format": "d"}},
    "y2": {"datum": 0},
    "color": {"datum": "Conv141_epoch24", "scale": {"range": ["#5b97c6"]}, "legend": {"title": null, "orient": "top-right"}}}},
  {"data": {"name": "c"}, "transform": [{"filter": "datum.p=='e24'"}], "mark": {"type": "line", "color": "#f01a1e", "strokeWidth": 1.2, "interpolate": "monotone", "clip": true},
   "encoding": {"x": {"field": "x", "type": "quantitative", "axis": {"title": "Value of weights"}}, "y": {"field": "y", "type": "quantitative", "axis": {"title": "Frequency"}}}}
 ]},
{"width": 217, "height": 143, "title": {"text": "Epoch: 34", "dx": 7},
 "layer": [
  {"data": {"name": "h"}, "transform": [{"filter": "datum.p=='e34'"}], "mark": {"type": "rect", "stroke": "#27313c", "strokeWidth": 0.5, "strokeOpacity": 0.85},
   "encoding": {"x": {"field": "a", "type": "quantitative", "scale": {"domain": [-0.506, 0.467], "nice": false, "zero": false}, "axis": {"title": "Value of weights", "values": [-0.4,-0.2,0,0.2,0.4], "format": ".1f"}},
    "x2": {"field": "b"},
    "y": {"field": "y", "type": "quantitative", "scale": {"domain": [0, 5.68], "nice": false}, "axis": {"title": "Frequency", "values": [0,1,2,3,4,5], "format": "d"}},
    "y2": {"datum": 0},
    "color": {"datum": "Conv141_epoch34", "scale": {"range": ["#5b97c6"]}, "legend": {"title": null, "orient": "top-right"}}}},
  {"data": {"name": "c"}, "transform": [{"filter": "datum.p=='e34'"}], "mark": {"type": "line", "color": "#f01a1e", "strokeWidth": 1.2, "interpolate": "monotone", "clip": true},
   "encoding": {"x": {"field": "x", "type": "quantitative", "axis": {"title": "Value of weights"}}, "y": {"field": "y", "type": "quantitative", "axis": {"title": "Frequency"}}}}
 ]},
{"width": 218, "height": 143, "title": {"text": "Epoch: 42", "dx": 13},
 "layer": [
  {"data": {"name": "h"}, "transform": [{"filter": "datum.p=='e42'"}], "mark": {"type": "rect", "stroke": "#27313c", "strokeWidth": 0.5, "strokeOpacity": 0.85},
   "encoding": {"x": {"field": "a", "type": "quantitative", "scale": {"domain": [-0.552, 0.522], "nice": false, "zero": false}, "axis": {"title": "Value of weights", "values": [-0.4,-0.2,0,0.2,0.4], "format": ".1f"}},
    "x2": {"field": "b"},
    "y": {"field": "y", "type": "quantitative", "scale": {"domain": [0, 6.27], "nice": false}, "axis": {"title": "Frequency", "values": [0,1,2,3,4,5,6], "format": "d"}},
    "y2": {"datum": 0},
    "color": {"datum": "Conv141_epoch42", "scale": {"range": ["#5b97c6"]}, "legend": {"title": null, "orient": "top-right"}}}},
  {"data": {"name": "c"}, "transform": [{"filter": "datum.p=='e42'"}], "mark": {"type": "line", "color": "#f01a1e", "strokeWidth": 1.2, "interpolate": "monotone", "clip": true},
   "encoding": {"x": {"field": "x", "type": "quantitative", "axis": {"title": "Value of weights"}}, "y": {"field": "y", "type": "quantitative", "axis": {"title": "Frequency"}}}}
 ]},
{"width": 215, "height": 143, "title": {"text": "Epoch: 62", "dx": 10},
 "layer": [
  {"data": {"name": "h"}, "transform": [{"filter": "datum.p=='e62'"}], "mark": {"type": "rect", "stroke": "#27313c", "strokeWidth": 0.5, "strokeOpacity": 0.85},
   "encoding": {"x": {"field": "a", "type": "quantitative", "scale": {"domain": [-0.561, 0.565], "nice": false, "zero": false}, "axis": {"title": "Value of weights", "values": [-0.4,-0.2,0,0.2,0.4], "format": ".1f"}},
    "x2": {"field": "b"},
    "y": {"field": "y", "type": "quantitative", "scale": {"domain": [0, 6.07], "nice": false}, "axis": {"title": "Frequency", "values": [0,1,2,3,4,5,6], "format": "d"}},
    "y2": {"datum": 0},
    "color": {"datum": "Conv141_epoch62", "scale": {"range": ["#5b97c6"]}, "legend": {"title": null, "orient": "top-right"}}}},
  {"data": {"name": "c"}, "transform": [{"filter": "datum.p=='e62'"}], "mark": {"type": "line", "color": "#f01a1e", "strokeWidth": 1.2, "interpolate": "monotone", "clip": true},
   "encoding": {"x": {"field": "x", "type": "quantitative", "axis": {"title": "Value of weights"}}, "y": {"field": "y", "type": "quantitative", "axis": {"title": "Frequency"}}}}
 ]},
{"width": 210, "height": 143, "title": {"text": "Epoch: 120", "dx": 20},
 "layer": [
  {"data": {"name": "h"}, "transform": [{"filter": "datum.p=='e120'"}], "mark": {"type": "rect", "stroke": "#27313c", "strokeWidth": 0.5, "strokeOpacity": 0.85},
   "encoding": {"x": {"field": "a", "type": "quantitative", "scale": {"domain": [-0.434, 0.433], "nice": false, "zero": false}, "axis": {"title": "Value of weights", "values": [-0.4,-0.3,-0.2,-0.1,0,0.1,0.2,0.3,0.4], "format": ".1f"}},
    "x2": {"field": "b"},
    "y": {"field": "y", "type": "quantitative", "scale": {"domain": [0, 7.5], "nice": false}, "axis": {"title": "Frequency", "values": [0,1,2,3,4,5,6,7], "format": "d"}},
    "y2": {"datum": 0},
    "color": {"datum": "Conv141_epoch120", "scale": {"range": ["#5b97c6"]}, "legend": {"title": null, "orient": "top-right"}}}},
  {"data": {"name": "c"}, "transform": [{"filter": "datum.p=='e120'"}], "mark": {"type": "line", "color": "#f01a1e", "strokeWidth": 1.2, "interpolate": "monotone", "clip": true},
   "encoding": {"x": {"field": "x", "type": "quantitative", "axis": {"title": "Value of weights"}}, "y": {"field": "y", "type": "quantitative", "axis": {"title": "Frequency"}}}}
 ]}
],
"config": {
 "view": {"stroke": "#3a3a3a", "strokeWidth": 0.8},
 "axis": {"domain": false, "grid": false, "tickSize": 2.5, "tickColor": "#3a3a3a", "tickWidth": 0.8, "labelFont": "DejaVu Sans", "labelFontSize": 6, "labelColor": "#333333", "labelPadding": 1.5, "labelOverlap": false, "labelFlush": false, "titleFont": "DejaVu Sans", "titleFontSize": 6, "titleFontWeight": "normal", "titleColor": "#333333", "titlePadding": 2},
 "axisX": {"titlePadding": 1},
 "legend": {"offset": 4, "padding": 3, "strokeColor": "#cccccc", "fillColor": "#ffffff", "cornerRadius": 2, "labelFont": "DejaVu Sans", "labelFontSize": 6, "labelColor": "#333333", "labelLimit": 300, "labelOffset": 4, "symbolType": "M-1,-0.35H1V0.35H-1Z", "symbolSize": 196, "symbolStrokeWidth": 0.5, "symbolStrokeColor": "#27313c", "rowPadding": 0},
 "title": {"orient": "bottom", "anchor": "middle", "font": "Lato", "fontSize": 28, "fontWeight": "bold", "color": "#000000", "baseline": "alphabetic", "offset": 1}
}
}
